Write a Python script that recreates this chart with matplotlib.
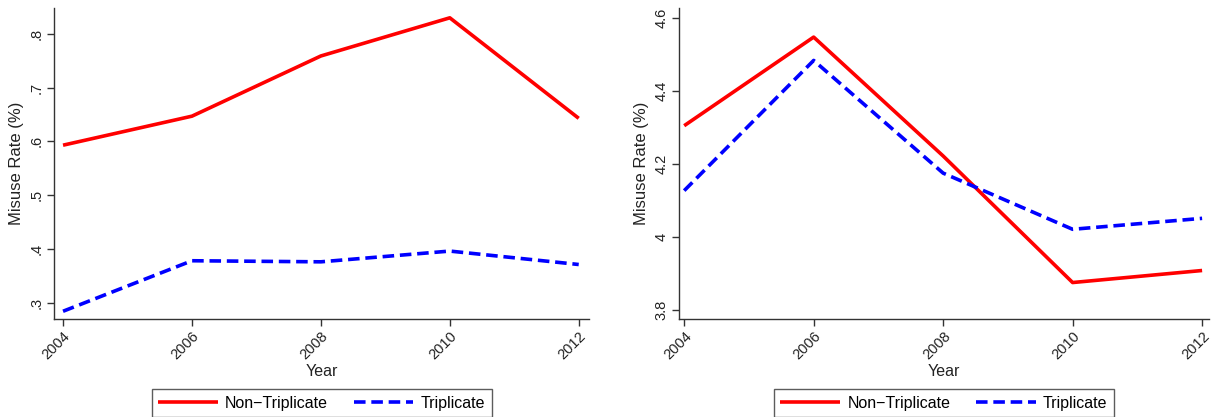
import matplotlib.pyplot as plt

plt.rcParams['font.family'] = ['Liberation Sans', 'DejaVu Sans']

years = [2004, 2006, 2008, 2010, 2012]
left_non = [0.593, 0.647, 0.759, 0.830, 0.643]
left_tri = [0.284, 0.378, 0.376, 0.396, 0.371]
right_non = [4.305, 4.548, 4.222, 3.875, 3.908]
right_tri = [4.127, 4.484, 4.175, 4.021, 4.051]
left_yticks = [0.3, 0.4, 0.5, 0.6, 0.7, 0.8]
left_ylabels = ['.3', '.4', '.5', '.6', '.7', '.8']
right_yticks = [3.8, 4.0, 4.2, 4.4, 4.6]
right_ylabels = ['3.8', '4', '4.2', '4.4', '4.6']

fig = plt.figure(figsize=(12.11, 4.17), dpi=100)
ax1 = fig.add_axes([0.0446, 0.235, 0.4418, 0.746])
ax2 = fig.add_axes([0.5607, 0.235, 0.4373, 0.746])

panels = [
    (ax1, left_non, left_tri, left_yticks, left_ylabels, (2003.86, 2012.16), (0.2696, 0.8484)),
    (ax2, right_non, right_tri, right_yticks, right_ylabels, (2003.92, 2012.1), (3.775, 4.628)),
]

for ax, non, tri, yt, yl, xlim, ylim in panels:
    ax.plot(years, non, color='#ff0000', lw=2.6, solid_capstyle='butt', label='Non\u2212Triplicate')
    ax.plot(years, tri, color='#0000ff', lw=2.6, ls=(0, (3.2, 1.6)), label='Triplicate')
    ax.set_xlim(*xlim)
    ax.set_ylim(*ylim)
    ax.set_xticks(years)
    ax.set_xticklabels([str(y) for y in years], rotation=45, ha='right',
                       rotation_mode='anchor', fontsize=10.5, color='#222222')
    ax.set_yticks(yt)
    ax.set_yticklabels(yl, rotation=90, va='center', fontsize=10.5, color='#222222')
    for s in ['top', 'right']:
        ax.spines[s].set_visible(False)
    for s in ['left', 'bottom']:
        ax.spines[s].set_color('#333333')
        ax.spines[s].set_linewidth(1.0)
    ax.tick_params(direction='out', length=5, width=1, color='#333333', pad=2.5)
    ax.set_xlabel('Year', fontsize=11.5, labelpad=1, color='#222222')
    ax.set_ylabel('Misuse Rate (%)', fontsize=12, labelpad=4, color='#222222')
    leg = ax.legend(loc='upper center', bbox_to_anchor=(0.5, -0.226), ncol=2,
                    frameon=True, fancybox=False, shadow=False, fontsize=11.5,
                    handlelength=3.75, handletextpad=0.45, columnspacing=1.6,
                    borderpad=0.4, edgecolor='#333333', borderaxespad=0)
    leg.get_frame().set_linewidth(1.0)

fig.savefig('out.png', dpi=100)
